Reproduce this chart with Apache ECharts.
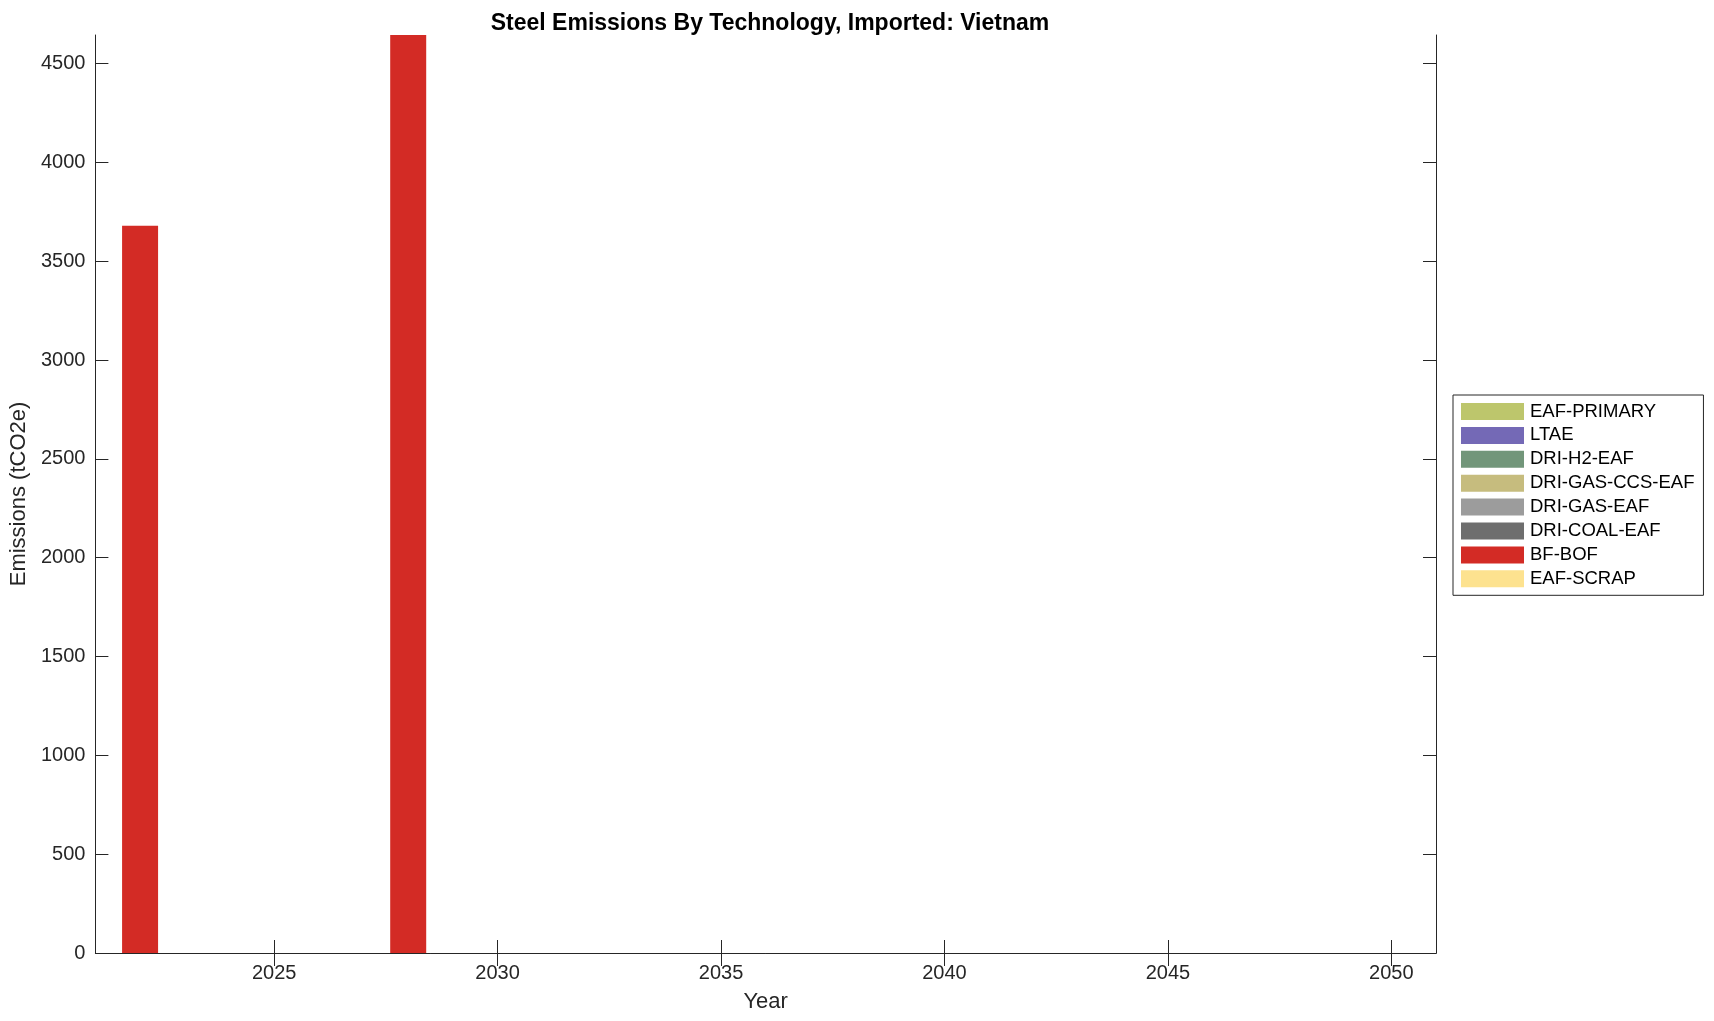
<!DOCTYPE html>
<html>
<head>
<meta charset="utf-8">
<script src="https://cdn.jsdelivr.net/npm/echarts@6/dist/echarts.min.js"></script>
<style>html,body{margin:0;padding:0;background:#fff}#c{width:1714px;height:1021px}</style>
</head>
<body>
<div id="c"></div>
<script>
// Data
const years = [2022, 2028, 2035, 2040, 2045, 2050];
const EAF_SCRAP = [0, 0, 0, 0, 0, 0];
const BF_BOF = [3680, 4645, 0, 0, 0, 0];
const DRI_COAL_EAF = [0, 0, 0, 0, 0, 0];
const DRI_GAS_EAF = [0, 0, 0, 0, 0, 0];
const DRI_GAS_CCS_EAF = [0, 0, 0, 0, 0, 0];
const DRI_H2_EAF = [0, 0, 0, 0, 0, 0];
const LTAE = [0, 0, 0, 0, 0, 0];
const EAF_PRIMARY = [0, 0, 0, 0, 0, 0];
const xTicks = [2025, 2030, 2035, 2040, 2045, 2050];
const yTicks = [0, 500, 1000, 1500, 2000, 2500, 3000, 3500, 4000, 4500];

const techs = [
  ['EAF-SCRAP', EAF_SCRAP, '#fde28f'],
  ['BF-BOF', BF_BOF, '#d32b25'],
  ['DRI-COAL-EAF', DRI_COAL_EAF, '#6e6e6e'],
  ['DRI-GAS-EAF', DRI_GAS_EAF, '#9c9c9c'],
  ['DRI-GAS-CCS-EAF', DRI_GAS_CCS_EAF, '#c6bc7e'],
  ['DRI-H2-EAF', DRI_H2_EAF, '#72967a'],
  ['LTAE', LTAE, '#7469b6'],
  ['EAF-PRIMARY', EAF_PRIMARY, '#bdc66c']
];

const FONT = '"Liberation Sans", Arial, Helvetica, sans-serif';
const TXT = '#262626';

const series = techs.map(([name, vals, color]) => ({
  name: name,
  type: 'bar',
  stack: 'total',
  barWidth: 36,
  itemStyle: { color: color },
  data: years.map((y, i) => [y, vals[i]])
}));

const plain = v => String(v);

const chart = echarts.init(document.getElementById('c'), null, { renderer: 'canvas' });
chart.setOption({
  animation: false,
  backgroundColor: '#fff',
  title: {
    text: 'Steel Emissions By Technology, Imported: Vietnam',
    left: 765, top: 7, textAlign: 'center',
    textStyle: { fontFamily: FONT, fontSize: 23, fontWeight: 'bold', color: '#000' }
  },
  grid: { left: 95, right: 278, top: 35, bottom: 68, containLabel: false },
  legend: {
    orient: 'vertical',
    left: 1453, top: 395,
    padding: [7, 9, 7, 8],
    itemWidth: 63, itemHeight: 17, itemGap: 4.9,
    borderColor: '#262626', borderWidth: 1, backgroundColor: '#fff',
    icon: 'rect',
    textStyle: { fontFamily: FONT, fontSize: 18.5, lineHeight: 17, color: '#000', padding: [0, 0, 0, 1] },
    data: techs.map(t => t[0]).slice().reverse()
  },
  xAxis: [{
    type: 'value', min: 2021, max: 2051, position: 'bottom',
    name: 'Year', nameLocation: 'middle', nameGap: 38,
    nameTextStyle: { fontFamily: FONT, fontSize: 22, color: TXT },
    axisLine: { show: true, lineStyle: { color: TXT, width: 1 } },
    axisTick: { show: true, inside: true, length: 13, customValues: xTicks, lineStyle: { color: TXT } },
    axisLabel: { customValues: xTicks, formatter: plain, fontFamily: FONT, fontSize: 20, color: TXT, margin: 10 },
    splitLine: { show: false }
  }, {
    type: 'value', min: 2021, max: 2051, position: 'top',
    axisLine: { show: true, lineStyle: { color: TXT, width: 1 } },
    axisTick: { show: true, inside: true, length: 13, customValues: xTicks, lineStyle: { color: TXT } },
    axisLabel: { show: false },
    splitLine: { show: false }
  }],
  yAxis: [{
    type: 'value', min: 0, max: 4645, position: 'left',
    name: 'Emissions (tCO2e)', nameLocation: 'middle', nameGap: 62, nameRotate: 90,
    nameTextStyle: { fontFamily: FONT, fontSize: 22, color: TXT },
    axisLine: { show: true, lineStyle: { color: TXT, width: 1 } },
    axisTick: { show: true, inside: true, length: 13, customValues: yTicks, lineStyle: { color: TXT } },
    axisLabel: { customValues: yTicks, formatter: plain, fontFamily: FONT, fontSize: 20, color: TXT, margin: 10 },
    splitLine: { show: false }
  }, {
    type: 'value', min: 0, max: 4645, position: 'right',
    axisLine: { show: true, lineStyle: { color: TXT, width: 1 } },
    axisTick: { show: true, inside: true, length: 13, customValues: yTicks, lineStyle: { color: TXT } },
    axisLabel: { show: false },
    splitLine: { show: false }
  }],
  series: series
});
</script>
</body>
</html>
